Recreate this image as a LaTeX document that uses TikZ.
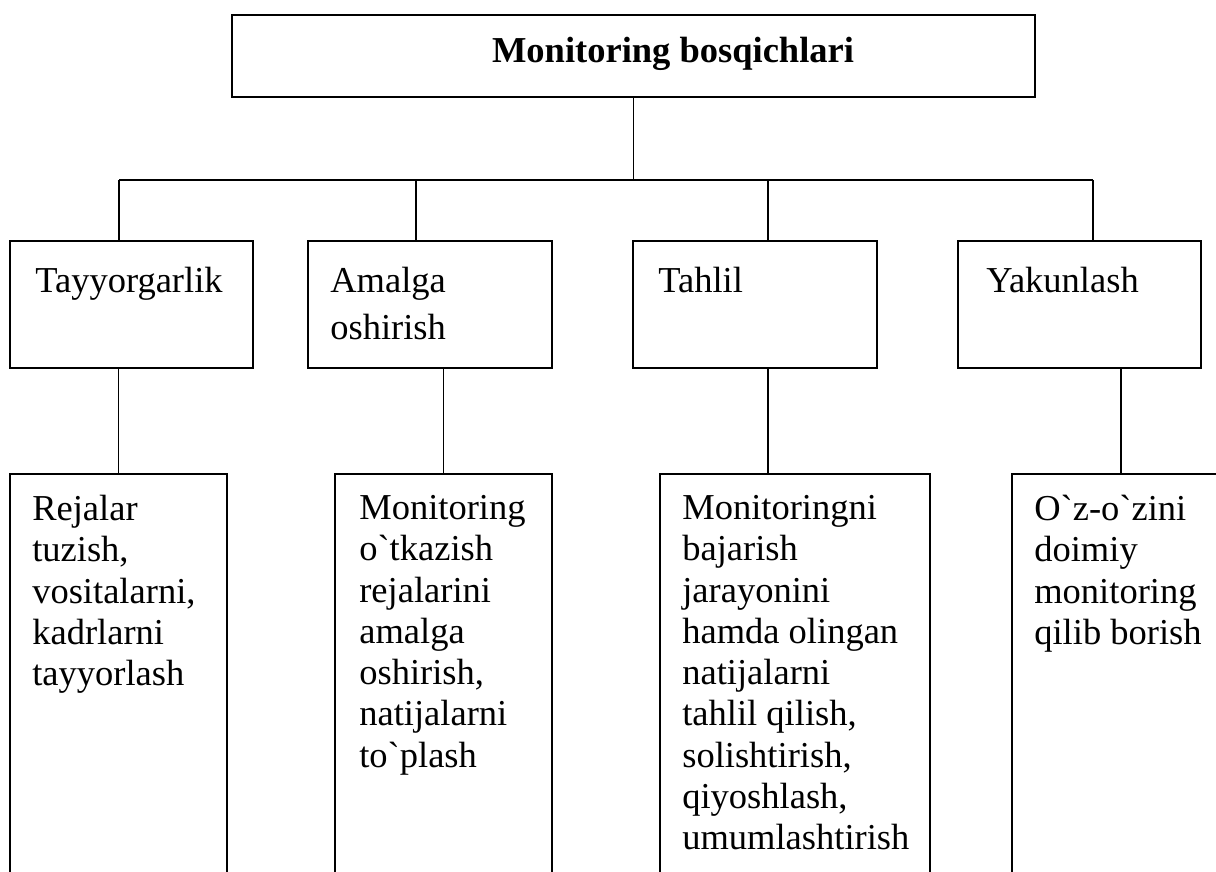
\documentclass[tikz,border=0pt]{standalone}
\usepackage{fontspec}
\setmainfont{Liberation Serif}
\usetikzlibrary{positioning}

\newcommand\bq{\textasciigrave}

\begin{document}
\begin{tikzpicture}[x=1pt, y=-1pt,
  every node/.style={font=\fontsize{36.5}{46.5}\selectfont},
  box/.style={draw, rectangle, line width=1.8pt, inner sep=0pt},
  txt/.style={anchor=north west, align=left, inner sep=0pt},
  dtxt/.style={txt, font=\fontsize{36.5}{41.3}\selectfont},
  ln/.style={line width=1.8pt}]

\useasboundingbox (0,0) rectangle (1216,872);
\clip (0,0) rectangle (1216,872);

%% --- head ---
\node[box, minimum width=803, minimum height=82] (top) at (633.5,56) {};
\node[inner sep=0pt] (topT) at (673,54) {\textbf{Monitoring bosqichlari}};

%% --- stages ---
\node[box, minimum width=243, minimum height=127] (tay)  at (131.5,304.5) {};
\node[box, minimum width=244, minimum height=127] (amal) at (430,304.5)   {};
\node[box, minimum width=244, minimum height=127] (tah)  at (755,304.5)   {};
\node[box, minimum width=243, minimum height=127] (yak)  at (1079.5,304.5) {};

\node[txt] (tayT)  at ([shift={(26,27)}]tay.north west)  {Tayyorgarlik};
\node[txt] (amalT) at ([shift={(23,27)}]amal.north west) {Amalga\\oshirish};
\node[txt] (tahT)  at ([shift={(26,27)}]tah.north west)  {Tahlil};
\node[txt] (yakT)  at ([shift={(29,27)}]yak.north west)  {Yakunlash};

%% --- details (open at the bottom) ---
\node[box, minimum width=217, minimum height=440] (rej) at (118.5,694)  {};
\node[box, minimum width=217, minimum height=440] (mon) at (443.5,694)  {};
\node[box, minimum width=270, minimum height=440] (mni) at (795,694)    {};
\node[box, minimum width=218, minimum height=440] (ozz) at (1121,694)   {};

\node[dtxt] (rejT) at ([shift={(23,22)}]rej.north west)
  {Rejalar\\tuzish,\\vositalarni,\\kadrlarni\\tayyorlash};
\node[dtxt] (monT) at ([shift={(25,22)}]mon.north west)
  {Monitoring\\o\bq tkazish\\rejalarini\\amalga\\oshirish,\\natijalarni\\to\bq plash};
\node[dtxt] (mniT) at ([shift={(23,22)}]mni.north west)
  {Monitoringni\\bajarish\\jarayonini\\hamda olingan\\natijalarni\\tahlil qilish,\\solishtirish,\\qiyoshlash,\\umumlashtirish};
\node[dtxt] (ozzT) at ([shift={(23,22)}]ozz.north west)
  {O\bq z-o\bq zini\\doimiy\\monitoring\\qilib borish};

%% --- connectors ---
\coordinate (b1) at (119,180);
\coordinate (b2) at (416,180);
\coordinate (b3) at (768,180);
\coordinate (b4) at (1093,180);

\draw[ln] (top.south) -- (top.south |- b1);
\draw[ln] (b1) -- (b4);
\draw[ln] (b1) -- (b1 |- tay.north);
\draw[ln] (b2) -- (b2 |- amal.north);
\draw[ln] (b3) -- (b3 |- tah.north);
\draw[ln] (b4) -- (b4 |- yak.north);

\draw[ln] (rej.north |- tay.south) -- (rej.north);
\draw[ln] (mon.north |- amal.south) -- (mon.north);
\draw[ln] (b3 |- tah.south) -- (b3 |- mni.north);
\draw[ln] (ozz.north |- yak.south) -- (ozz.north);
\end{tikzpicture}
\end{document}
